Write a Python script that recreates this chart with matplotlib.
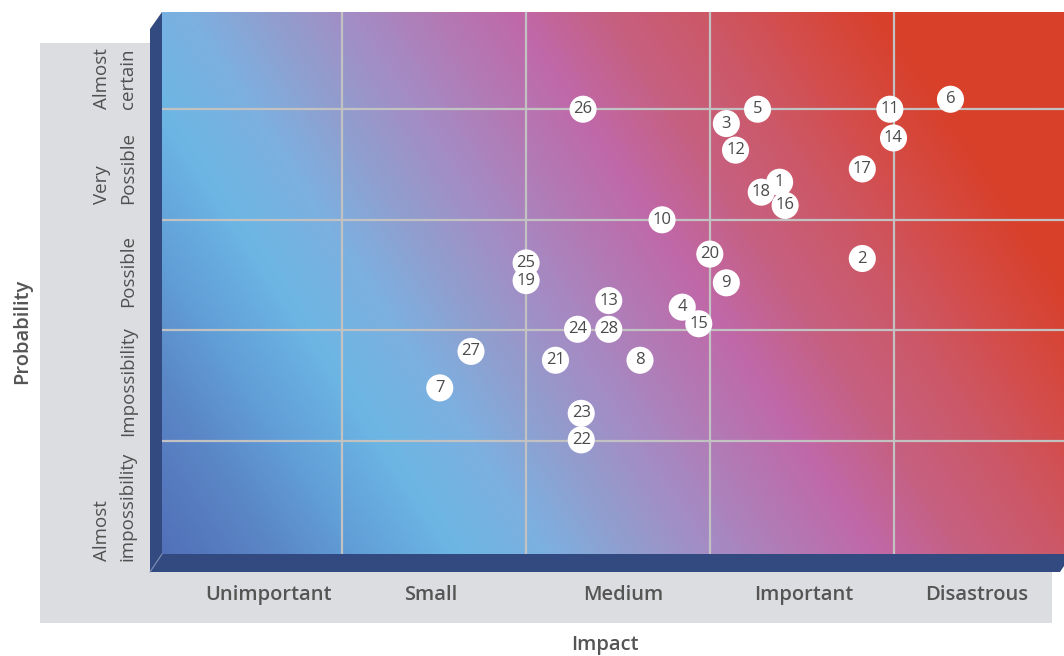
import numpy as np
import matplotlib
matplotlib.use("Agg")
import matplotlib.pyplot as plt
from matplotlib.colors import LinearSegmentedColormap
from matplotlib.patches import Polygon, Rectangle

# Données
risk_ids = list(range(1, 29))
impact = [3.38, 3.83, 3.09, 2.85, 3.26, 4.31, 1.53, 2.62, 3.09, 2.74,
          3.98, 3.14, 2.45, 4.00, 2.94, 3.41, 3.83, 3.28, 2.00, 3.00,
          2.16, 2.30, 2.30, 2.28, 2.00, 2.31, 1.70, 2.45]
probability = [3.34, 2.65, 3.87, 2.21, 4.00, 4.09, 1.48, 1.73, 2.43, 3.00,
               4.00, 3.63, 2.27, 3.74, 2.06, 3.13, 3.46, 3.25, 2.45, 2.69,
               1.73, 1.01, 1.25, 2.01, 2.61, 4.00, 1.81, 2.01]

impact_labels = ["Unimportant", "Small", "Medium", "Important", "Disastrous"]
impact_pos = [0.60, 1.48, 2.53, 3.51, 4.45]
prob_labels = ["Almost\nimpossibility", "Impossibility", "Possible",
               "Very\nPossible", "Almost\ncertain"]
prob_pos = [0.41, 1.54, 2.54, 3.47, 4.28]

# Couleurs du dégradé (le long de la diagonale)
grad_t = [0.0, 0.6, 1.1, 1.6, 2.1, 2.5, 3.0, 3.5, 3.9, 4.4, 4.9, 5.4, 5.9, 7.5]
grad_c = ["#5270b8", "#5a86c6", "#62a0d8", "#6cb6e4", "#7cb0e0", "#8ea0d0",
          "#a48cc4", "#b478b4", "#c068a8", "#c66080", "#cc5868", "#d44c48",
          "#d8402a", "#d8402a"]

W, H = 1064, 656
frame_col = "#334a80"
text_col = "#555555"
plt.rcParams['font.family'] = ['Open Sans', 'DejaVu Sans']

fig = plt.figure(figsize=(W / 100, H / 100), dpi=100)

# panneau gris
fig.patches.append(Rectangle((40 / W, 1 - 623 / H), 1012 / W, 580 / H,
                             transform=fig.transFigure, facecolor="#dcdde0",
                             edgecolor="none", zorder=-1))

ax = fig.add_axes([162 / W, 1 - 554 / H, (1064 - 162) / W, (554 - 12) / H])
xmin, xmax, ymin, ymax = 0.018, 4.928, -0.022, 4.879
ax.set_xlim(xmin, xmax)
ax.set_ylim(ymin, ymax)

cmap = LinearSegmentedColormap.from_list(
    "risk", list(zip(np.array(grad_t) / grad_t[-1], grad_c)))
gx = np.linspace(xmin, xmax, 400)
gy = np.linspace(ymin, ymax, 250)
GX, GY = np.meshgrid(gx, gy)
ax.imshow(GX + 0.40 * GY, cmap=cmap, vmin=0, vmax=grad_t[-1], origin="lower",
          extent=(xmin, xmax, ymin, ymax), aspect="auto", interpolation="bilinear",
          zorder=0)

for v in range(1, 5):
    ax.axvline(v, color="#c2c2c2", lw=1.6, zorder=1)
    ax.axhline(v, color="#c2c2c2", lw=1.6, zorder=1)

ax.scatter(impact, probability, s=380, c="white", edgecolors="none", zorder=3)
for i, x, y in zip(risk_ids, impact, probability):
    ax.text(x, y, str(i), ha="center", va="center", fontsize=12,
            color="#4a4a4a", zorder=4)

for s in ax.spines.values():
    s.set_visible(False)
ax.set_xticks(impact_pos, impact_labels, fontsize=14.5, fontweight="semibold",
              color=text_col)
ax.set_yticks(prob_pos, prob_labels, fontsize=13.5, color="#505050", rotation=90,
              va="center", ha="right")
for t in ax.get_yticklabels():
    t.set_multialignment("left")
    t.set_linespacing(1.55)
ax.tick_params(axis="x", length=0, pad=22)
ax.tick_params(axis="y", length=0, pad=18)

ax.text(0.491, -0.168, "Impact", transform=ax.transAxes, ha="center",
        va="center", fontsize=14.5, fontweight="semibold", color=text_col)
ax.text(-0.155, 0.41, "Probability", transform=ax.transAxes, ha="center",
        va="center", rotation=90, fontsize=14.5, fontweight="semibold",
        color=text_col)

# cadre bleu foncé en relief
left_band = [(150, 29), (162, 12), (162, 554), (150, 572)]
bottom_band = [(150, 572), (162, 554), (1064, 554), (1064, 566), (1060, 572)]
for poly in (left_band, bottom_band):
    pts = [(px / W, 1 - py / H) for px, py in poly]
    fig.patches.append(Polygon(pts, closed=True, transform=fig.transFigure,
                               facecolor=frame_col, edgecolor="none", zorder=2))
fig.add_artist(plt.Line2D([150 / W, 162 / W], [1 - 572 / H, 1 - 554 / H],
                          color="#7f8fb8", lw=0.8, zorder=3))

fig.savefig("out.png", dpi=100)
